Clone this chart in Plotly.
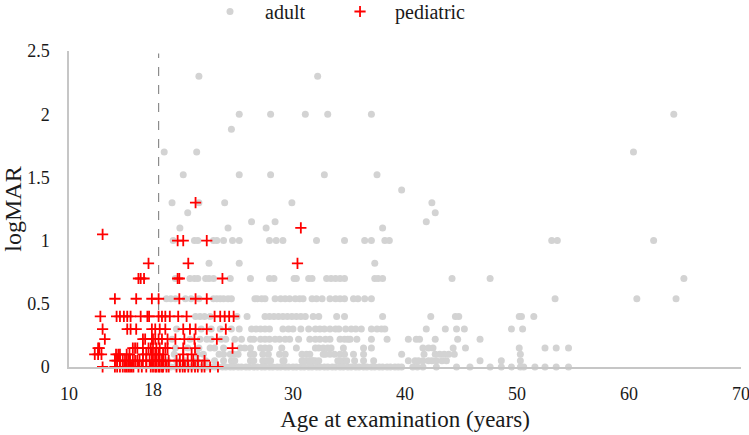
import plotly.graph_objects as go

# ---------------- data (age in years, logMAR) ----------------
# adult patients: ages read per logMAR level
adult_2_30 = [21.6, 32.2]
adult_2_00 = [25.2, 28.0, 31.1, 33.1, 37.0, 64.0]
adult_1_88 = [24.5]
adult_1_70 = [18.5, 21.4, 60.4]
adult_1_52 = [20.2, 25.2, 28.0, 32.8, 37.5]
adult_1_40 = [39.7]
adult_1_30 = [19.2, 21.6, 23.9, 29.9, 42.4]
adult_1_22 = [20.6, 42.7]
adult_1_15 = [26.3, 28.4, 41.9]
adult_1_10 = [19.9, 24.2, 27.6, 38.0]
adult_1_00 = [19.3, 21.2, 21.5, 22.9, 23.2, 23.8, 24.6, 25.2, 27.9, 28.5, 29.1,
              32.1, 34.6, 36.4, 37.0, 38.2, 38.6, 53.1, 53.6, 62.2]
adult_0_82 = [22.5, 25.2, 37.3]
adult_0_70 = [19.5, 20.8, 21.2, 21.5, 22.2, 22.5, 22.9, 24.4, 26.2, 27.9, 28.3,
              30.1, 30.3, 31.4, 31.7, 33.0, 33.4, 33.8, 34.2, 34.6, 37.3, 37.6,
              38.0, 44.2, 47.6, 64.9]
adult_0_54 = [18.7, 19.1, 19.5, 20.4, 20.9, 21.6, 22.9, 23.2, 23.5, 23.8, 24.2,
              24.5, 26.6, 26.8, 27.2, 27.5, 28.4, 28.9, 29.3, 29.7, 30.2, 30.6,
              30.9, 31.7, 32.1, 32.6, 33.3, 33.8, 34.2, 34.6, 35.4, 35.8, 36.4,
              37.0, 53.4, 60.7, 64.2]
adult_0_40 = [21.3, 21.7, 22.1, 22.6, 25.0, 25.9, 27.5, 27.9, 28.3, 28.7, 29.1,
              29.5, 29.9, 30.3, 30.7, 31.1, 31.8, 32.3, 33.9, 34.6, 38.0, 42.3,
              44.5, 44.8, 50.2, 50.4, 51.5]
adult_0_30 = [19.6, 21.8, 22.7, 23.5, 24.5, 25.2, 26.3, 26.7, 27.1, 27.5, 27.9,
              29.1, 29.6, 30.0, 30.7, 31.4, 32.0, 32.4, 32.8, 33.3, 33.8, 34.1,
              34.7, 35.2, 35.6, 36.1, 37.0, 37.5, 37.9, 38.2, 41.9, 43.6, 44.6,
              45.3, 49.5, 50.5]
adult_0_22 = [19.2, 20.8, 21.7, 22.3, 22.7, 23.6, 24.0, 24.8, 25.4, 26.2, 26.5,
              27.1, 27.5, 27.9, 28.4, 28.8, 29.3, 29.7, 30.5, 31.5, 32.0, 32.4,
              32.9, 33.3, 34.2, 34.6, 34.9, 35.1, 35.7, 37.0, 38.4, 40.3, 41.0,
              41.3, 42.7, 44.7, 46.7]
adult_0_15 = [19.5, 20.6, 21.6, 22.6, 23.0, 23.8, 25.3, 25.7, 26.2, 27.1, 27.5,
              27.9, 29.0, 30.3, 32.0, 32.3, 32.7, 33.1, 33.4, 34.5, 36.3, 37.0,
              41.6, 42.1, 42.5, 44.3, 45.4, 50.2, 52.5, 53.5, 54.6]
adult_0_10 = [19.4, 21.5, 22.0, 23.4, 23.8, 24.4, 24.7, 25.1, 26.2, 26.5, 27.3,
              27.8, 28.8, 29.3, 30.8, 31.2, 31.5, 32.7, 32.9, 33.3, 33.7, 34.2,
              34.6, 35.4, 36.3, 39.7, 41.7, 42.7, 43.1, 43.5, 43.9, 44.4, 50.3]
adult_0_05 = [18.8, 19.6, 20.4, 21.4, 22.2, 23.0, 23.8, 24.5, 24.8, 26.2, 26.5,
              27.3, 27.6, 27.9, 28.0, 29.1, 29.2, 30.8, 30.9, 31.2, 31.5, 31.7,
              31.8, 32.0, 32.3, 34.0, 34.2, 34.5, 34.8, 35.5, 36.3, 37.2, 40.3,
              40.9, 41.2, 41.6, 42.1, 42.4, 42.8, 43.3, 43.7, 46.7, 48.6, 50.3]
adult_0_00 = [18.4, 18.8, 19.1, 19.5, 19.8, 20.2, 20.5, 20.9, 21.2, 21.6, 21.9,
              22.3, 22.6, 23.0, 23.3, 23.7, 24.0, 24.4, 24.7, 25.1, 25.4, 25.8,
              26.1, 26.5, 26.8, 27.2, 27.5, 27.9, 28.2, 28.6, 28.9, 29.3, 29.6,
              30.0, 30.3, 30.7, 31.0, 31.4, 31.7, 32.1, 32.4, 32.8, 33.1, 33.5,
              33.8, 34.2, 34.5, 34.9, 35.2, 35.6, 35.9, 36.3, 36.6, 37.0, 37.3,
              37.7, 38.0, 38.4, 38.7, 39.1, 39.4, 39.7, 40.7, 41.1, 41.6, 42.8,
              44.6, 45.8, 47.6, 48.6, 49.5, 50.3, 50.6, 51.6, 52.5, 53.5, 54.6]

# pediatric patients
ped_1_30 = [21.3]
ped_1_10 = [30.7]
ped_1_05 = [13.0]
ped_1_00 = [19.7, 20.2, 22.3]
ped_0_82 = [17.1, 20.65, 30.4]
ped_0_70 = [16.2, 16.4, 16.7, 19.7, 19.85, 23.7]
ped_0_54 = [14.1, 16.0, 17.4, 18.0, 19.85, 21.3, 22.3]
ped_0_40 = [12.8, 14.25, 14.55, 14.9, 15.2, 15.5, 16.4, 17.0, 17.15, 18.0, 18.3,
            18.6, 19.0, 19.75, 20.5, 23.0, 23.5, 23.9, 24.3, 24.7]
ped_0_30 = [13.0, 15.2, 15.5, 16.0, 17.4, 17.7, 18.1, 18.6, 20.2, 20.8, 21.3,
            22.3, 24.0]
ped_0_22 = [13.2, 16.6, 16.8, 17.4, 17.5, 17.7, 18.0, 18.3, 18.8, 19.5, 20.3,
            21.2, 23.2]
ped_0_15 = [12.6, 12.7, 15.7, 15.9, 16.1, 16.6, 17.1, 17.3, 17.5, 17.8, 18.1,
            18.6, 18.8, 20.2, 21.25, 24.6]
ped_0_10 = [12.3, 12.6, 12.9, 14.2, 14.4, 14.55, 15.15, 15.4, 16.6, 16.9, 17.4,
            17.7, 18.0, 18.4, 20.2, 20.95]
ped_0_05 = [14.1, 14.3, 14.55, 14.8, 15.0, 15.3, 15.45, 15.7, 15.9, 16.1, 16.3,
            16.6, 16.9, 17.2, 17.4, 17.5, 17.7, 17.8, 18.0, 18.1, 18.3, 18.4,
            18.6, 18.9, 19.6, 19.9, 20.2, 20.6, 21.1, 21.5, 22.1]
ped_0_00 = [13.0, 14.1, 14.3, 14.55, 14.8, 15.0, 15.15, 15.3, 15.45, 15.6, 15.75,
            16.2, 16.5, 16.9, 17.3, 17.5, 17.7, 17.8, 18.0, 18.1, 18.3, 18.4,
            18.7, 18.9, 19.6, 19.9, 20.15, 20.35, 20.65, 20.95, 21.25, 21.5,
            21.85, 22.1, 22.6, 23.3]

adult_levels = [(2.30, adult_2_30), (2.00, adult_2_00), (1.88, adult_1_88),
                (1.70, adult_1_70), (1.52, adult_1_52), (1.40, adult_1_40),
                (1.30, adult_1_30), (1.22, adult_1_22), (1.15, adult_1_15),
                (1.10, adult_1_10), (1.00, adult_1_00), (0.82, adult_0_82),
                (0.70, adult_0_70), (0.54, adult_0_54), (0.40, adult_0_40),
                (0.30, adult_0_30), (0.22, adult_0_22), (0.15, adult_0_15),
                (0.10, adult_0_10), (0.05, adult_0_05), (0.00, adult_0_00)]
ped_levels = [(1.30, ped_1_30), (1.10, ped_1_10), (1.05, ped_1_05),
              (1.00, ped_1_00), (0.82, ped_0_82), (0.70, ped_0_70),
              (0.54, ped_0_54), (0.40, ped_0_40), (0.30, ped_0_30),
              (0.22, ped_0_22), (0.15, ped_0_15), (0.10, ped_0_10),
              (0.05, ped_0_05), (0.00, ped_0_00)]

x_ticks = [10, 30, 40, 50, 60, 70]
y_ticks = [0, 0.5, 1, 1.5, 2, 2.5]
y_tick_text = ["0", "0.5", "1", "1.5", "2", "2.5"]
cutoff_age = 18


def flatten(levels):
    xs, ys = [], []
    for lv, ages in levels:
        xs.extend(ages)
        ys.extend([lv] * len(ages))
    return xs, ys


ax, ay = flatten(adult_levels)
px_, py_ = flatten(ped_levels)

FONT = "Liberation Serif, Times New Roman, serif"
TXT = "#1a1a1a"

fig = go.Figure()
fig.add_trace(go.Scatter(
    x=ax, y=ay, mode="markers", name="adult", legend="legend",
    marker=dict(symbol="circle", size=7, color="#d3d3d3"),
    cliponaxis=False,
))
fig.add_trace(go.Scatter(
    x=px_, y=py_, mode="markers", name="pediatric", legend="legend2",
    marker=dict(symbol="cross-thin", size=8, color="#ff0000",
                line=dict(color="#ff0000", width=1.8)),
    cliponaxis=False,
))

fig.add_shape(type="line", xref="x", yref="y", x0=cutoff_age, x1=cutoff_age,
              y0=0.45, y1=2.48, layer="below",
              line=dict(color="#8c8c8c", width=1.2, dash="dash"))

fig.add_annotation(x=cutoff_age, y=0, xref="x", yref="y", text=str(cutoff_age),
                   showarrow=False, yanchor="top", xshift=-6, yshift=-11,
                   font=dict(family=FONT, size=18, color=TXT))

legend_common = dict(orientation="h", xanchor="left", y=1.125, yanchor="middle",
                     itemwidth=60, bgcolor="rgba(0,0,0,0)",
                     font=dict(family=FONT, size=20, color=TXT))

fig.update_layout(
    width=749, height=435,
    margin=dict(l=69, r=8, t=51, b=68, autoexpand=False),
    paper_bgcolor="white", plot_bgcolor="white",
    font=dict(family=FONT, size=18, color=TXT),
    showlegend=True,
    legend=dict(x=0.1875, **legend_common),
    legend2=dict(x=0.381, **legend_common),
    xaxis=dict(range=[10, 70], tickvals=x_ticks, showgrid=False, zeroline=False,
               showline=True, linecolor="#c6c6c6", linewidth=1.5,
               ticks="", ticklabelstandoff=10, automargin=False,
               ticklabeloverflow="allow",
               tickfont=dict(family=FONT, size=18, color=TXT),
               title=dict(text="Age at examination (years)", standoff=8,
                          font=dict(family=FONT, size=23, color=TXT))),
    yaxis=dict(range=[0, 2.5], tickvals=y_ticks, ticktext=y_tick_text,
               showgrid=False, zeroline=False, automargin=False,
               showline=True, linecolor="#c6c6c6", linewidth=1.5,
               ticks="", ticklabelstandoff=14,
               tickfont=dict(family=FONT, size=18, color=TXT),
               title=dict(text="logMAR", standoff=12,
                          font=dict(family=FONT, size=24, color=TXT))),
)

fig.write_html("out.html",
               config={"displayModeBar": False},
               post_script="document.body.style.margin='0';"
                           "document.body.style.padding='0';")
